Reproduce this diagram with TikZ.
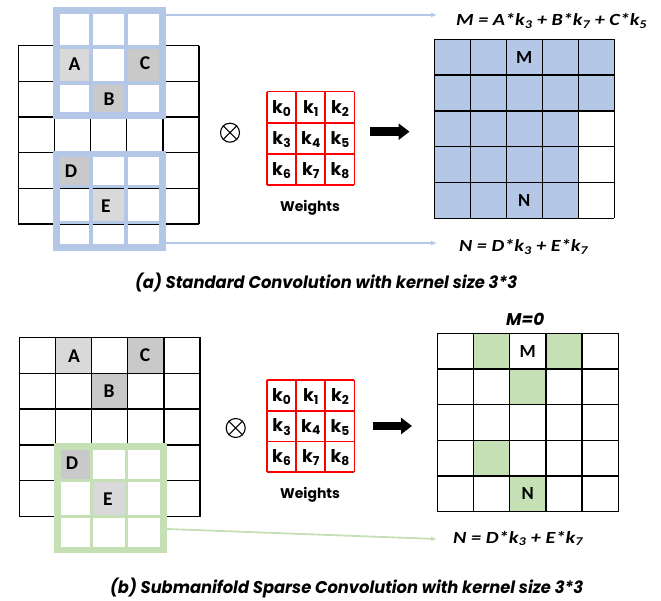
\documentclass[tikz,border=0pt]{standalone}
\usepackage{fontspec}
\setmainfont{Carlito}
\newfontfamily\pop{Poppins}
\usepackage{graphicx}
\usetikzlibrary{arrows.meta}
\definecolor{wblue}{HTML}{B4C7E7}
\definecolor{wgreen}{HTML}{C5E0B4}
\definecolor{gl}{HTML}{D9D9D9}
\definecolor{gd}{HTML}{C9C9C9}
\definecolor{kred}{HTML}{FF0000}
\tikzset{
  gline/.style={line width=1.3pt, black},
  letter/.style={font=\fontsize{19.5}{21}\selectfont\bfseries, inner sep=0pt},
  oletter/.style={font=\fontsize{18.5}{20}\selectfont\bfseries, inner sep=0pt},
  klab/.style={font=\pop\fontsize{17.5}{19}\selectfont\bfseries, inner sep=0pt},
  kline/.style={line width=1.6pt, kred},
  formula/.style={anchor=base west, inner sep=0pt, font=\fontsize{17}{20}\selectfont\bfseries\itshape},
  caption/.style={anchor=base west, inner sep=0pt, font=\pop\fontsize{17}{20}\selectfont\bfseries\itshape},
  wtext/.style={font=\pop\fontsize{14}{16}\selectfont\bfseries, inner sep=0pt},
  connb/.style={line width=1.8pt, wblue, -{Latex[length=6pt,width=5pt]}},
  conng/.style={line width=1.8pt, wgreen, -{Latex[length=6pt,width=5pt]}},
  bigarrow/.style={line width=8.5pt, black, -{Triangle[length=11pt,width=16pt]}},
  otimes/.style={circle, draw, line width=1.1pt, minimum size=19pt, inner sep=0pt},
}
\begin{document}
\begin{tikzpicture}[x=1pt,y=-1pt]
\useasboundingbox (0,0) rectangle (661,601);

% ================= (a) =================
\def\xa{18.3}\def\dxa{36.14}\def\ya{45.7}\def\dya{35.66}
\foreach \c/\r/\col in {1/0/gl,3/0/gd,2/1/gd,1/3/gd,2/4/gl}
  \fill[\col] (\xa+\dxa*\c,\ya+\dya*\r) rectangle ++(\dxa,\dya);
\foreach \i in {0,...,5} {
  \draw[gline] (\xa+\dxa*\i,\ya) -- (\xa+\dxa*\i,\ya+5*\dya);
  \draw[gline] (\xa,\ya+\dya*\i) -- (\xa+5*\dxa,\ya+\dya*\i);
}
% top window
\fill[white] (60,14) rectangle (159,44);
\draw[wblue, line width=3.5pt] (91,10.5) -- (91,115.3) (126,10.5) -- (126,115.3)
  (56.6,47) -- (162.5,47) (56.6,83) -- (162.5,83);
\node[draw=wblue, line width=6.5pt, minimum width=105.9pt, minimum height=104.8pt, inner sep=0pt] (wa1) at (109.55,62.9) {};
% bottom window
\fill[white] (60,226) rectangle (159,244);
\draw[wblue, line width=3.5pt] (91,154) -- (91,247.5) (126,154) -- (126,247.5)
  (56.6,186.7) -- (162.5,186.7) (56.6,222.7) -- (162.5,222.7);
\node[draw=wblue, line width=6.5pt, minimum width=105.9pt, minimum height=93.5pt, inner sep=0pt] (wa2) at (109.55,200.75) {};
% letters
\node[letter] (A1) at (74.5,64) {A};
\node[letter] (C1) at (145,63) {C};
\node[letter] (B1) at (109,99) {B};
\node[letter] (D1) at (71,171) {D};
\node[letter] (E1) at (106,206) {E};

% otimes and kernel
\node[otimes] (ot1) at (230,132.7) {};
\draw[line width=1.1pt] (ot1.45) -- (ot1.225) (ot1.135) -- (ot1.315);
\def\kx{266.7}\def\kdx{29.2}\def\kya{91.7}\def\kdya{31.1}
\foreach \i in {0,...,3} {
  \draw[kline] (\kx+\kdx*\i,\kya) -- (\kx+\kdx*\i,\kya+3*\kdya);
  \draw[kline] (\kx,\kya+\kdya*\i) -- (\kx+3*\kdx,\kya+\kdya*\i);
}
\foreach \r in {0,1,2} \foreach \c in {0,1,2} {
  \pgfmathtruncatemacro\k{3*\r+\c}
  \node[klab] (ka\k) at (\kx+\kdx*\c+\kdx/2+0.5,\kya+\kdya*\r+\kdya/2+1) {k\textsubscript{\k}};
}
\node[wtext] (wt1) at (310,208) {Weights};
\coordinate (ba1) at (370,131.7);
\coordinate (bb1) at (409.5,131.7);
\draw[bigarrow] (ba1) -- (bb1);

% output grid
\def\ox{434.3}\def\odx{36}\def\oy{39.3}\def\ody{35.8}
\fill[wblue] (\ox,\oy) rectangle ++(5*\odx,2*\ody);
\fill[wblue] (\ox,\oy+2*\ody) rectangle ++(4*\odx,3*\ody);
\foreach \i in {0,...,5} {
  \draw[gline] (\ox+\odx*\i,\oy) -- (\ox+\odx*\i,\oy+5*\ody);
  \draw[gline] (\ox,\oy+\ody*\i) -- (\ox+5*\odx,\oy+\ody*\i);
}
\node[oletter] (M1) at (\ox+2.5*\odx,\oy+0.5*\ody) {M};
\node[oletter] (N1) at (\ox+2.5*\odx,\oy+4.5*\ody) {N};

% formulas and connectors
\node[formula] (fm1) at (456,26) {\resizebox{191pt}{\height}{M = A*k\textsubscript{3} + B*k\textsubscript{7} + C*k\textsubscript{5}}};
\node[formula] (fn1) at (459,252) {\resizebox{129pt}{\height}{N = D*k\textsubscript{3} + E*k\textsubscript{7}}};
\coordinate (sa1) at (166,15);
\coordinate (ea1) at (437,15);
\coordinate (sa2) at (166,243);
\coordinate (ea2) at (437,243);
\draw[connb] (sa1) -- (ea1);
\draw[connb] (sa2) -- (ea2);

\node[caption] (capa) at (135,289) {\resizebox{382pt}{\height}{(a) Standard Convolution with kernel size 3*3}};

% ================= (b) =================
\def\xb{19.3}\def\dxb{36.14}\def\yb{337.3}\def\dyb{35.88}
\foreach \c/\r/\col in {1/0/gl,3/0/gd,2/1/gd,1/3/gd,2/4/gl}
  \fill[\col] (\xb+\dxb*\c,\yb+\dyb*\r) rectangle ++(\dxb,\dyb);
\foreach \i in {0,...,5} {
  \draw[gline] (\xb+\dxb*\i,\yb) -- (\xb+\dxb*\i,\yb+5*\dyb);
  \draw[gline] (\xb,\yb+\dyb*\i) -- (\xb+5*\dxb,\yb+\dyb*\i);
}
% green window
\fill[white] (61,519) rectangle (160,547);
\draw[wgreen, line width=3.5pt] (91.7,446.7) -- (91.7,550) (126.7,446.7) -- (126.7,550)
  (57.5,480.5) -- (163.5,480.5) (57.5,516.3) -- (163.5,516.3);
\node[draw=wgreen, line width=6.5pt, minimum width=106pt, minimum height=103.3pt, inner sep=0pt] (wb1) at (110.5,498.35) {};
\node[letter] (A2) at (74,356) {A};
\node[letter] (C2) at (145,355) {C};
\node[letter] (B2) at (109,391) {B};
\node[letter] (D2) at (72,463) {D};
\node[letter] (E2) at (108,499) {E};

\node[otimes] (ot2) at (235.7,428) {};
\draw[line width=1.1pt] (ot2.45) -- (ot2.225) (ot2.135) -- (ot2.315);
\def\kyb{380}\def\kdyb{30.7}
\foreach \i in {0,...,3} {
  \draw[kline] (\kx+\kdx*\i,\kyb) -- (\kx+\kdx*\i,\kyb+3*\kdyb);
  \draw[kline] (\kx,\kyb+\kdyb*\i) -- (\kx+3*\kdx,\kyb+\kdyb*\i);
}
\foreach \r in {0,1,2} \foreach \c in {0,1,2} {
  \pgfmathtruncatemacro\k{3*\r+\c}
  \node[klab] (kb\k) at (\kx+\kdx*\c+\kdx/2+0.5,\kyb+\kdyb*\r+\kdyb/2+1) {k\textsubscript{\k}};
}
\node[wtext] (wt2) at (310,495) {Weights};
\coordinate (ba2) at (372.7,426);
\coordinate (bb2) at (412,426);
\draw[bigarrow] (ba2) -- (bb2);

\def\px{437.3}\def\pdx{36.2}\def\py{333.3}\def\pdy{35.7}
\foreach \c/\r in {1/0,3/0,2/1,1/3,2/4}
  \fill[wgreen] (\px+\pdx*\c,\py+\pdy*\r) rectangle ++(\pdx,\pdy);
\foreach \i in {0,...,5} {
  \draw[gline] (\px+\pdx*\i,\py) -- (\px+\pdx*\i,\py+5*\pdy);
  \draw[gline] (\px,\py+\pdy*\i) -- (\px+5*\pdx,\py+\pdy*\i);
}
\node[oletter] (M2) at (\px+2.5*\pdx,\py+0.5*\pdy) {M};
\node[oletter] (N2) at (\px+2.5*\pdx,\py+4.5*\pdy) {N};
\node[caption] (m0) at (506,326) {\resizebox{38pt}{\height}{M=0}};

\node[formula] (fn2) at (453,543.3) {\resizebox{130pt}{\height}{N = D*k\textsubscript{3} + E*k\textsubscript{7}}};
\coordinate (sb1) at (167,529);
\coordinate (eb1) at (437,539);
\draw[conng] (sb1) -- (eb1);

\node[caption] (capb) at (110,593) {\resizebox{473pt}{\height}{(b) Submanifold Sparse Convolution with kernel size 3*3}};
\end{tikzpicture}
\end{document}
